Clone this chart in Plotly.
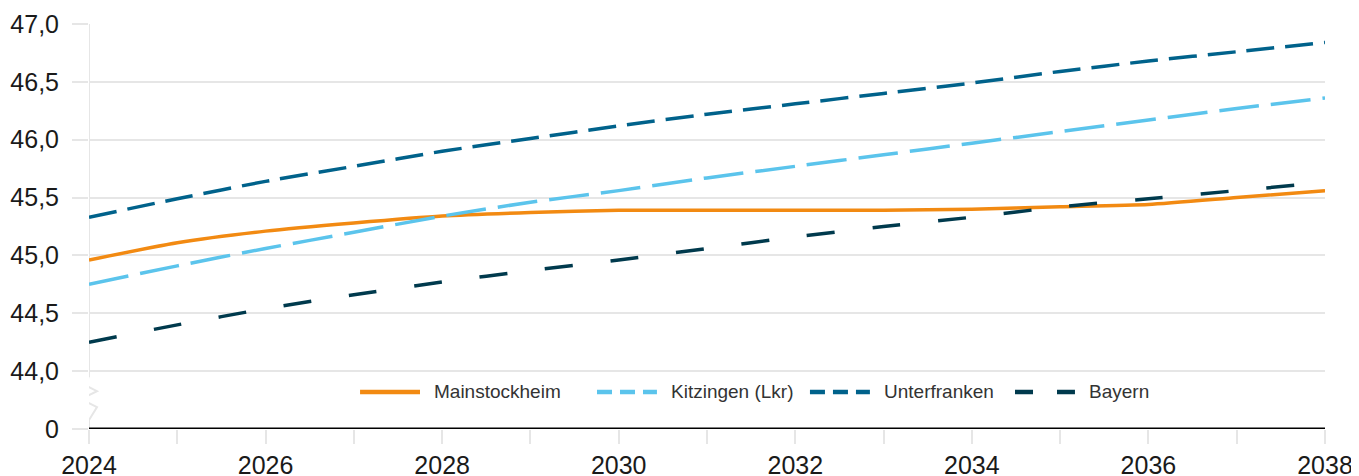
import plotly.graph_objects as go

years = list(range(2024, 2039))
mainstockheim = [44.96, 45.11, 45.21, 45.28, 45.34, 45.37, 45.39, 45.39, 45.39, 45.39, 45.40, 45.42, 45.44, 45.50, 45.56]
kitzingen = [44.75, 44.91, 45.06, 45.20, 45.34, 45.46, 45.56, 45.67, 45.77, 45.87, 45.97, 46.07, 46.17, 46.27, 46.36]
unterfranken = [45.33, 45.49, 45.64, 45.77, 45.90, 46.01, 46.12, 46.22, 46.31, 46.40, 46.49, 46.59, 46.68, 46.76, 46.84]
bayern = [44.25, 44.40, 44.54, 44.66, 44.77, 44.87, 44.96, 45.06, 45.16, 45.25, 45.33, 45.42, 45.49, 45.56, 45.63]

series_names = ["Mainstockheim", "Kitzingen (Lkr)", "Unterfranken", "Bayern"]
y_tickvals = [43.5, 44.0, 44.5, 45.0, 45.5, 46.0, 46.5, 47.0]
y_ticktext = ["0", "44,0", "44,5", "45,0", "45,5", "46,0", "46,5", "47,0"]
x_ticktext = [str(y) if y % 2 == 0 else "" for y in years]

colors = ["#F28A12", "#5BC4EC", "#00628B", "#003A4D"]
dashes = ["solid", "40px,12px", "28px,11px", "28px,38px"]
legend_dashes = ["solid", "15px,8px", "15px,8px", "18px,24px"]

fig = go.Figure()
for name, vals, c, d in zip(series_names, [mainstockheim, kitzingen, unterfranken, bayern], colors, dashes):
    fig.add_trace(go.Scatter(x=years, y=vals, name=name, mode="lines", showlegend=False,
                             line=dict(color=c, width=3.5, dash=d, shape="spline", smoothing=0.6)))

grid = "#e6e6e6"
shapes = [
    # y axis line (with break)
    dict(type="line", xref="x", yref="y", x0=2024, x1=2024, y0=47.0, y1=43.948,
         line=dict(color=grid, width=2), layer="below"),
    dict(type="line", xref="x", yref="y", x0=2024, x1=2024, y0=43.577, y1=43.5,
         line=dict(color=grid, width=2), layer="below"),
    dict(type="path", xref="x", yref="y", xsizemode="pixel", xanchor=2024,
         path="M 0 43.948 L -8 43.896 L 8 43.827 L -8 43.758 L 8 43.689 L 0 43.577",
         line=dict(color=grid, width=2), layer="below"),
    # zero line
    dict(type="line", xref="x", yref="y", x0=2024, x1=2038, y0=43.5, y1=43.5,
         line=dict(color="#000000", width=3), layer="above"),
]

# manual legend (positions in paper fraction of plot area)
leg_y = 0.0914
leg_x0 = [0.2193, 0.4110, 0.5833, 0.7492]
sym_len = 0.0485
annotations = []
for name, c, d, x0 in zip(series_names, colors, legend_dashes, leg_x0):
    shapes.append(dict(type="line", xref="paper", yref="paper", x0=x0, x1=x0 + sym_len,
                       y0=leg_y, y1=leg_y, line=dict(color=c, width=4.5, dash=d)))
    annotations.append(dict(xref="paper", yref="paper", x=x0 + sym_len + 0.0095, y=leg_y,
                            text=name, showarrow=False, xanchor="left", yanchor="middle",
                            font=dict(size=19, color="#333333")))

fig.update_layout(
    width=1351, height=468,
    margin=dict(l=81, r=34, t=16, b=47),
    paper_bgcolor="white", plot_bgcolor="white",
    font=dict(family="Liberation Sans, Arial, sans-serif", color="#1a1a1a"),
    shapes=shapes,
    annotations=annotations,
    showlegend=False,
    xaxis=dict(range=[2024, 2038], tickmode="array", tickvals=years, ticktext=x_ticktext,
               showgrid=False, zeroline=False, showline=False, automargin=False,
               ticks="outside", ticklen=14, tickwidth=2, tickcolor=grid,
               tickfont=dict(size=25, color="#1a1a1a"), ticklabelstandoff=0),
    yaxis=dict(range=[43.5, 47.0], tickmode="array", tickvals=y_tickvals, ticktext=y_ticktext,
               showgrid=True, gridcolor=grid, gridwidth=2, zeroline=False, showline=False,
               automargin=False,
               ticks="outside", ticklen=16, tickwidth=2, tickcolor=grid,
               tickfont=dict(size=25, color="#1a1a1a"), ticklabelstandoff=8),
)

fig.write_html("out.html")
